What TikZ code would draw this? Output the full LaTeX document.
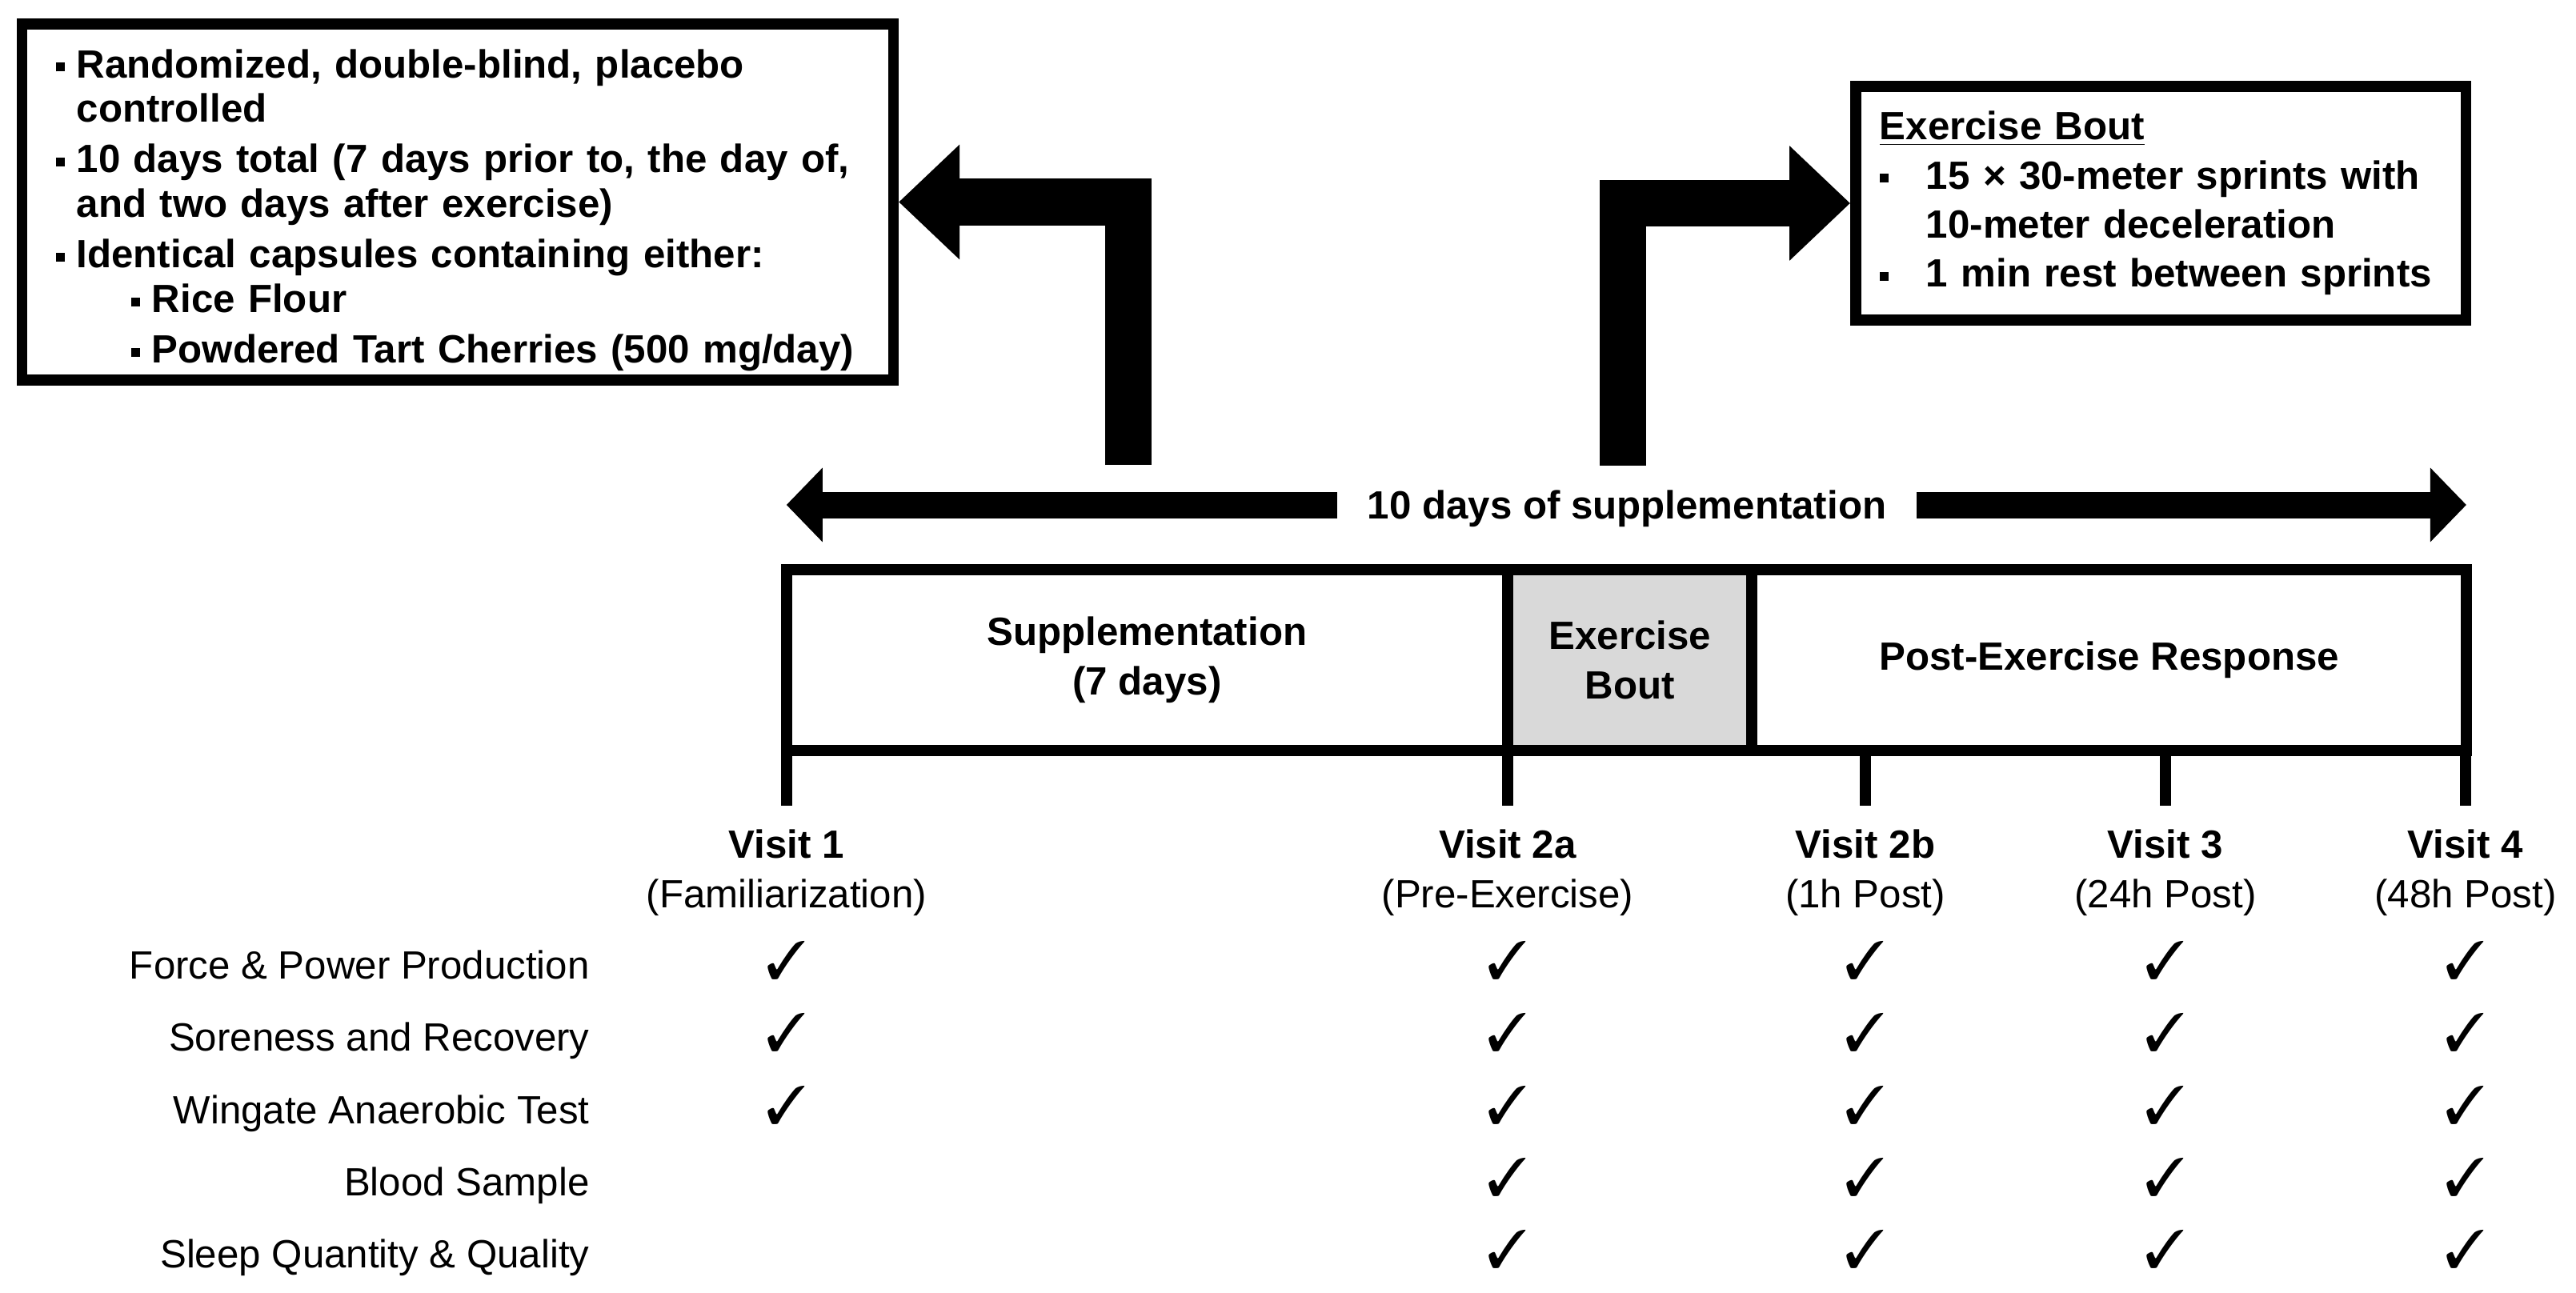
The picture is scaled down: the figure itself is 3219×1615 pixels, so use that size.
\documentclass[tikz,border=0pt]{standalone}
\usepackage{fontspec}
\setmainfont{Liberation Sans}
\usepackage{pifont}
\usetikzlibrary{arrows.meta,positioning}
\definecolor{boutgray}{HTML}{D9D9D9}
\newcommand{\sqbul}[1][0.26cm]{\makebox[#1][l]{\rule[2.2pt]{3.2pt}{3.2pt}}}
\newcommand{\ck}{\ding{51}}
\tikzset{
    %Define style for text boxes
    infobox/.style={
      rectangle,
      draw=black, line width=0.135cm,
      align=left},
    %Define style for timeline blocks
    phasebox/.style={
      rectangle,
      draw=black, line width=0.14cm,
      outer sep=0pt,
      minimum height=2.25cm,
      align=center,
      font=\fontsize{14}{17.6}\selectfont\bfseries},
    % Define block arrow styles
    bigarr/.style={
      -{Triangle[length=0.76cm,width=1.39cm]},
      line width=0.58cm},
    spanarr/.style={
      -{Triangle[length=0.45cm,width=0.9cm]},
      line width=0.33cm},
    spanlbl/.style={
      font=\fontsize{14}{16}\selectfont\bfseries,
      inner xsep=0.37cm,
      text height=10pt, text depth=0pt},
    % Define timeline marks and labels
    visittick/.style={line width=0.14cm},
    visitlbl/.style={
      align=center,
      font=\fontsize{14}{17.6}\selectfont},
    measure/.style={anchor=base east},
    chk/.style={font=\fontsize{19}{19}\selectfont}
}

\begin{document}
\begin{tikzpicture}[x=0.01cm, y=-0.01cm, font=\fontsize{14}{16}\selectfont]
    \useasboundingbox (0,0) rectangle (3219,1615);

    \node[infobox, text width=10.04cm, inner xsep=0.42cm, inner ysep=0pt, minimum height=4.45cm,
      font=\fontsize{14}{15.9}\selectfont\bfseries] (design) at (572,252.5)
      {\rule{0pt}{0.56cm}\sqbul Randomized, double-blind, placebo\\
       \hspace*{0.26cm}controlled\\[2pt]
       \sqbul 10 days total (7 days prior to, the day of,\\
       \hspace*{0.26cm}and two days after exercise)\\[2pt]
       \sqbul Identical capsules containing either:\\
       \hspace*{0.94cm}\sqbul Rice Flour\\[2pt]
       \hspace*{0.94cm}\sqbul Powdered Tart Cherries (500 mg/day)};

    \node[infobox, text width=7.02cm, inner xsep=0.30cm, minimum height=2.92cm,
      font=\fontsize{14}{17.4}\selectfont\bfseries] (sprints) at (2700,254)
      {\underline{Exercise Bout}\\
       \sqbul[0.58cm]15 × 30-meter sprints with\\
       \hspace*{0.58cm}10-meter deceleration\\
       \sqbul[0.58cm]1 min rest between sprints};

    \coordinate (dfoot) at (1410,581);
    \coordinate (sfoot) at (2028,582);
    \draw[bigarr] (dfoot) |- (design.east);
    \draw[bigarr] (sfoot) |- (sprints.west);

    % timeline
    \node[phasebox, minimum width=9.01cm] (supp) at (1433.5,825) {Supplementation\\(7 days)};
    \node[phasebox, fill=boutgray, minimum width=3.05cm, right=0pt of supp] (bout) {Exercise\\Bout};
    \node[phasebox, minimum width=8.92cm, right=0pt of bout] (post) {Post-Exercise Response};

    \node[spanlbl] (tenday) at (2033,631) {10 days of supplementation};
    \draw[spanarr] (tenday.west) -- (tenday.west -| supp.west);
    \draw[spanarr] (tenday.east) -- (tenday.east -| post.east);

    \foreach \x/\v/\sub [count=\i] in {983/1/Familiarization, 1884/2a/Pre-Exercise,
        2331/2b/1h Post, 2706/3/24h Post, 3081/4/48h Post}{
      \draw[visittick] (\x,937) -- (\x,1007) coordinate (tick\i);
      \node[visitlbl, below=0.17cm of tick\i] (visit\i) {\textbf{Visit \v}\\(\sub)};
    }

    % measurements per visit
    \foreach \y/\meas/\cols [count=\r] in {
        1205/Force \& Power Production/{983,1884,2331,2706,3081},
        1295/Soreness and Recovery/{983,1884,2331,2706,3081},
        1386/Wingate Anaerobic Test/{983,1884,2331,2706,3081},
        1476/Blood Sample/{1884,2331,2706,3081},
        1566/Sleep Quantity \& Quality/{1884,2331,2706,3081}}{
      \node[measure] (meas\r) at (749,\y+18) {\meas};
      \foreach \x in \cols
        \node[chk] (chk\r-\x) at (\x,\y-5) {\ck};
    }
\end{tikzpicture}
\end{document}
